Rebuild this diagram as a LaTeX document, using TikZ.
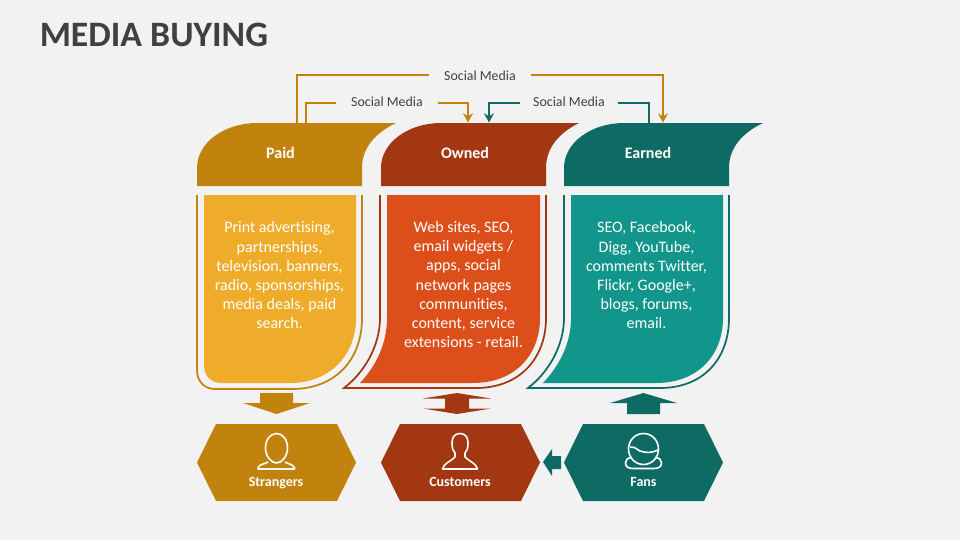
\documentclass[tikz,border=0pt]{standalone}
\usepackage{fontspec}
\setmainfont{Carlito}[Ligatures=NoCommon]
\usetikzlibrary{arrows.meta}
\definecolor{bgc}{HTML}{F2F2F2}
\definecolor{gold}{HTML}{C1830E}
\definecolor{goldl}{HTML}{EFAC2A}
\definecolor{rust}{HTML}{A33711}
\definecolor{orng}{HTML}{DC4F1B}
\definecolor{teald}{HTML}{0E6B64}
\definecolor{teall}{HTML}{12958A}
\definecolor{txt}{HTML}{404040}
\tikzset{
  x=0.75pt,y=-0.75pt,
  conn/.style={line width=1.4pt,-{Stealth[length=7pt,width=7.5pt,inset=2.5pt]}},
  connp/.style={line width=1.4pt},
  smlabel/.style={text=txt,font=\fontsize{10.4}{12}\selectfont,inner sep=0pt,text height=7pt,text depth=1pt,minimum height=8pt},
  headtext/.style={text=white,font=\fontsize{12}{14}\selectfont\bfseries,inner sep=0pt,anchor=base},
  bodytext/.style={text=white,align=center,font=\fontsize{12}{14.4}\selectfont,inner sep=0pt},
  hextext/.style={text=white,font=\fontsize{10.5}{12}\selectfont\bfseries,inner sep=0pt,anchor=base},
  outl/.style={line width=1.3pt},
  icon/.style={draw=white,line width=1.2pt,line join=round,fill=none},
}
\begin{document}
\begin{tikzpicture}
\useasboundingbox[fill=bgc] (0,0) rectangle (960,540);
\node[anchor=base west,inner sep=0pt,text=txt,font=\fontsize{26.8}{32}\selectfont\bfseries] (title) at (39.5,46) {MEDIA BUYING};

% headers
\fill[gold] (197,186) -- (197,168) .. controls (197,142) and (225,123) .. (257,123) -- (396,123) .. controls (375,133) and (362,148) .. (362,168) -- (362,186) -- cycle;
\fill[rust] (381,186) -- (381,168) .. controls (381,142) and (409,123) .. (441,123) -- (579,123) .. controls (559,133) and (546,148) .. (546,168) -- (546,186) -- cycle;
\fill[teald] (564,186) -- (564,168) .. controls (564,142) and (592,123) .. (624,123) -- (763,123) .. controls (742,133) and (729,148) .. (729,168) -- (729,186) -- cycle;
\node[headtext] (paid) at (280.5,158) {Paid};
\node[headtext] (owned) at (465,158) {Owned};
\node[headtext] (earned) at (648,158) {Earned};

% bodies
\draw[gold,outl] (197,195) -- (197,370) .. controls (197,382) and (205,389) .. (215,389) -- (292,389) .. controls (335,389) and (362,360) .. (362,318) -- (362,195);
\fill[goldl] (204,195) -- (356,195) -- (356,318) .. controls (356,355) and (330,383) .. (290,383) -- (222,383) .. controls (210,383) and (204,375) .. (204,365) -- cycle;
\draw[rust,outl] (380,195) -- (380,318) .. controls (380,345) and (365,372) .. (344,388) -- (476,388) .. controls (520,388) and (546,358) .. (546,318) -- (546,195);
\fill[orng] (387,195) -- (540,195) -- (540,318) .. controls (540,355) and (515,383) .. (473,383) -- (360,383) .. controls (375,367) and (387,345) .. (387,318) -- cycle;
\draw[teald,outl] (564,195) -- (564,318) .. controls (564,345) and (549,372) .. (528,388) -- (660,388) .. controls (704,388) and (729,358) .. (729,318) -- (729,195);
\fill[teall] (571,195) -- (723,195) -- (723,318) .. controls (723,355) and (698,383) .. (656,383) -- (543,383) .. controls (558,367) and (571,345) .. (571,318) -- cycle;

\node[bodytext] (paidtxt) at (279.5,275.5) {Print advertising,\\partnerships,\\television, banners,\\radio, sponsorships,\\media deals, paid\\search.};
\node[bodytext] (ownedtxt) at (463.5,284.5) {Web sites, SEO,\\email widgets /\\apps, social\\network pages\\communities,\\content, service\\extensions - retail.};
\node[bodytext] (earnedtxt) at (646.5,275.5) {SEO, Facebook,\\Digg, YouTube,\\comments Twitter,\\Flickr, Google+,\\blogs, forums,\\email.};

% block arrows
\fill[gold] (260,393) -- (293,393) -- (293,403) -- (310,403) -- (276.5,414) -- (243,403) -- (260,403) -- cycle;
\fill[rust] (457,393) -- (491,398.5) -- (469,398.5) -- (469,408.5) -- (491,408.5) -- (457,414) -- (423,408.5) -- (445,408.5) -- (445,398.5) -- (423,398.5) -- cycle;
\fill[teald] (643.5,393) -- (677,403) -- (660,403) -- (660,414) -- (627,414) -- (627,403) -- (610,403) -- cycle;
\fill[teald] (543,462) -- (552,449) -- (552,456) -- (561,456) -- (561,469) -- (552,469) -- (552,476) -- cycle;

% hexagons
\fill[gold] (197,462.5) -- (216,424) -- (337,424) -- (356,462.5) -- (337,501) -- (216,501) -- cycle;
\fill[rust] (381,462.5) -- (400,424) -- (521,424) -- (540,462.5) -- (521,501) -- (400,501) -- cycle;
\fill[teald] (564,462.5) -- (583,424) -- (704,424) -- (723,462.5) -- (704,501) -- (583,501) -- cycle;
\node[hextext] (strangers) at (276,486.5) {Strangers};
\node[hextext] (customers) at (460,486.5) {Customers};
\node[hextext] (fans) at (643.5,486.5) {Fans};

% icons
\draw[icon] (276.5,433.5) .. controls (270,433.5) and (265.5,440) .. (265.5,448) .. controls (265.5,456) and (271,463) .. (276.5,463) .. controls (282,463) and (287.5,456) .. (287.5,448) .. controls (287.5,440) and (283,433.5) .. (276.5,433.5) -- cycle;
\draw[icon] (268,462) .. controls (265,464) and (259,464) .. (258,468) -- (258,469) -- (294.5,469) -- (294.5,468) .. controls (293,464) and (288,464) .. (285,462);
\draw[icon] (460,433.5) .. controls (454,433.5) and (452,438) .. (452,443) .. controls (452,448) and (453,451) .. (455,453) -- (455,457) .. controls (450,462) and (444,463) .. (442.5,469) -- (477.5,469) .. controls (476,463) and (470,462) .. (465,457) -- (465,453) .. controls (467,451) and (468,448) .. (468,443) .. controls (468,438) and (466,433.5) .. (460,433.5) -- cycle;
\draw[icon] (643.5,433.5) .. controls (635,433.5) and (628.5,440.5) .. (628.5,449) .. controls (628.5,457.5) and (635,464.5) .. (643.5,464.5) .. controls (652,464.5) and (658.5,457.5) .. (658.5,449) .. controls (658.5,440.5) and (652,433.5) .. (643.5,433.5) -- cycle;
\draw[icon] (630,447) .. controls (636,447) and (636,449) .. (640,451) .. controls (646,453) and (652,453) .. (658,450);
\draw[icon] (632,457.5) .. controls (627,458) and (625.5,460) .. (625.5,463) .. controls (625.5,467) and (629,468.5) .. (633,468.5) -- (654,468.5) .. controls (658,468.5) and (661.5,467) .. (661.5,463) .. controls (661.5,460) and (660,458) .. (655,457.5);

% connectors
\coordinate (paidA) at (297,123);
\coordinate (paidB) at (306,123);
\coordinate (earnedOut) at (649,123);
\coordinate (ownedIn1) at (468,122.5);
\coordinate (ownedIn2) at (489,122.5);
\coordinate (earnedIn) at (663,122.5);
\node[smlabel,text height=8.5pt,minimum width=76.5pt] (sm1) at (480,75) {Social Media};
\node[smlabel,minimum width=76.5pt] (sm2) at (387,102.7) {Social Media};
\node[smlabel,minimum width=73.5pt] (sm3) at (569,102.7) {Social Media};
\draw[gold,connp] (paidA) |- (sm1.west);
\draw[gold,conn] (sm1.east) -| (earnedIn);
\draw[gold,connp] (paidB) |- (sm2.west);
\draw[gold,conn] (sm2.east) -| (ownedIn1);
\draw[teald,connp] (earnedOut) |- (sm3.east);
\draw[teald,conn] (sm3.west) -| (ownedIn2);
\end{tikzpicture}
\end{document}
